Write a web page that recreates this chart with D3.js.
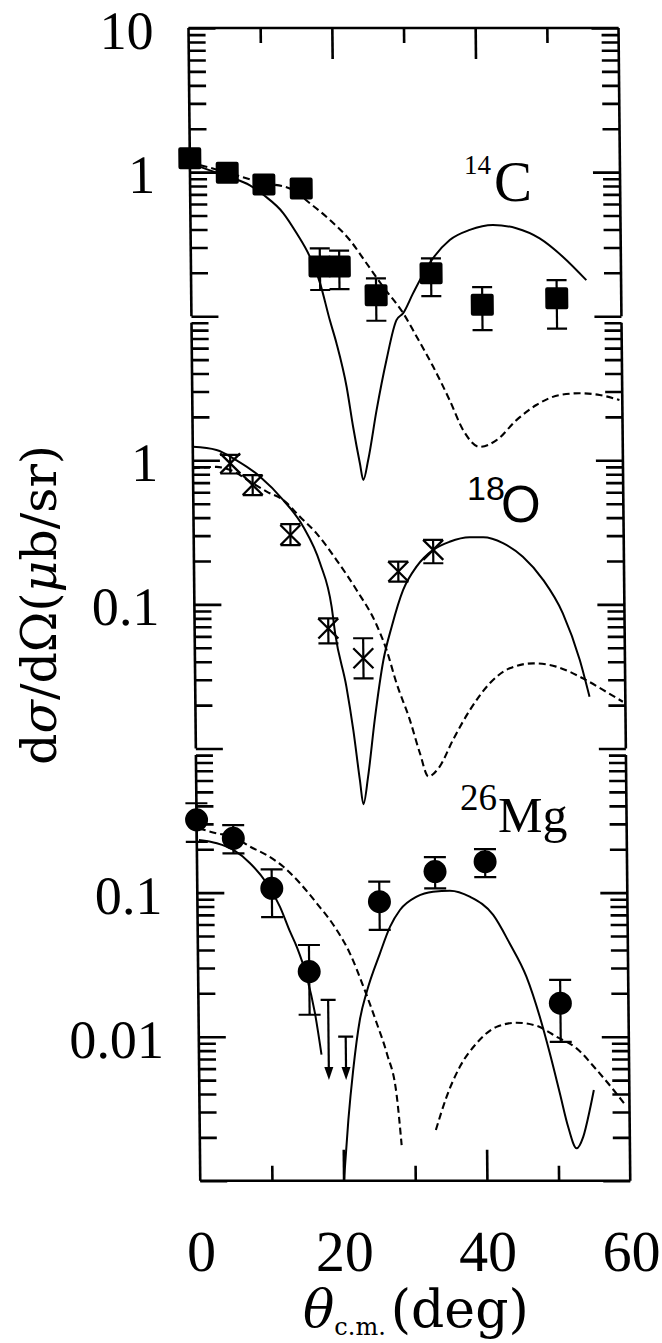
<!DOCTYPE html>
<html>
<head>
<meta charset="utf-8">
<script src="https://cdn.jsdelivr.net/npm/d3@7"></script>
<style>
  html, body { margin: 0; padding: 0; background: #fff; }
  svg { display: block; }
</style>
</head>
<body>
<svg id="chart" width="662" height="1343"></svg>
<script>
// ---------------- data ----------------
const thetaLabels = [0, 20, 40, 60];
const thetaMinor = [10, 30, 50];
const thetaMajor = [20, 40];

// 14C: measured points (filled squares)
const c14Theta = [0, 5.2, 10.3, 15.5, 18.0, 20.7, 25.8, 33.5, 40.6, 51.0];
const c14Value = [1.25, 0.99, 0.82, 0.77, 0.221, 0.221, 0.140, 0.199, 0.120, 0.133];
const c14ErrHi = [null, null, null, null, 0.296, 0.285, 0.183, 0.252, 0.159, 0.178];
const c14ErrLo = [null, null, null, null, 0.152, 0.154, 0.093, 0.138, 0.080, 0.082];

// 14C: calculations
const c14SolidTheta = [0, 5.2, 8.35, 10.3, 12.95, 14.8, 16.6, 18.0, 19.3, 20.2, 21.55, 22.4, 23.3, 23.75, 24.45, 25.7, 27.15, 28.6, 29.55, 30.95, 33.3, 36.15, 38.95, 42.2, 45.45, 48.7, 51.9, 55.15];
const c14SolidValue = [1.15, 0.93, 0.81, 0.69, 0.52, 0.376, 0.259, 0.169, 0.094, 0.065, 0.0324, 0.0171, 0.0095, 0.0073, 0.0100, 0.0223, 0.0497, 0.094, 0.105, 0.144, 0.233, 0.338, 0.397, 0.430, 0.408, 0.347, 0.259, 0.178];
const c14DashTheta = [0, 5.0, 10.3, 13.9, 16.7, 19.45, 22.2, 24.5, 26.8, 29.55, 31.4, 33.65, 35.9, 37.75, 40.05, 42.4, 45.2, 48.0, 51.3, 54.05, 56.85, 59.6];
const c14DashValue = [1.17, 1.0, 0.84, 0.77, 0.607, 0.466, 0.338, 0.233, 0.160, 0.105, 0.072, 0.0447, 0.0262, 0.0162, 0.0124, 0.0138, 0.0190, 0.0242, 0.0284, 0.0292, 0.0284, 0.0262];

// 18O: measured points (crosses)
const o18Theta = [5.2, 8.3, 13.5, 18.65, 23.5, 28.5, 33.4];
const o18Value = [0.953, 0.674, 0.303, 0.068, 0.0423, 0.169, 0.239];
const o18ErrHi = [1.09, 0.79, 0.361, 0.080, 0.0582, 0.198, 0.280];
const o18ErrLo = [0.81, 0.574, 0.258, 0.0537, 0.0307, 0.144, 0.193];

// 18O: calculations
const o18SolidTheta = [0, 3.3, 6.1, 9.35, 12.55, 15.3, 17.6, 19.15, 19.6, 21.1, 22.0, 22.85, 23.3, 24.0, 25.0, 26.3, 27.5, 29.15, 31.05, 33.4, 35.7, 38.5, 40.4, 43.15, 45.9, 48.7, 51.4, 53.7, 55.0];
const o18SolidValue = [1.24, 1.18, 1.0, 0.77, 0.53, 0.346, 0.193, 0.096, 0.063, 0.0268, 0.0134, 0.0060, 0.0041, 0.0064, 0.0158, 0.0411, 0.070, 0.126, 0.183, 0.239, 0.272, 0.292, 0.292, 0.266, 0.214, 0.148, 0.0867, 0.0411, 0.0229];
const o18DashTheta = [0, 3.3, 5.2, 7.95, 10.25, 12.55, 14.85, 17.15, 19.9, 22.65, 25.4, 26.75, 28.1, 29.9, 31.25, 32.4, 34.0, 35.9, 38.3, 41.1, 43.9, 47.2, 50.4, 54.1, 56.9, 59.65];
const o18DashValue = [0.88, 0.90, 0.857, 0.711, 0.606, 0.53, 0.406, 0.311, 0.203, 0.126, 0.072, 0.0483, 0.0283, 0.0158, 0.0093, 0.0064, 0.0075, 0.0115, 0.0185, 0.0283, 0.036, 0.039, 0.037, 0.0307, 0.0255, 0.0211];

// 26Mg: measured points (filled circles) and upper limits (arrows)
const mgTheta = [0, 5.1, 10.4, 15.5, 25.4, 33.2, 40.2, 50.5];
const mgValue = [0.32, 0.238, 0.107, 0.0283, 0.0865, 0.140, 0.164, 0.0171];
const mgErrHi = [0.417, 0.294, 0.145, 0.0433, 0.119, 0.176, 0.200, 0.0248];
const mgErrLo = [0.225, 0.187, 0.0675, 0.0142, 0.0551, 0.107, 0.128, 0.0092];
const mgLimitTheta = [18.1, 20.5];
const mgLimitValue = [0.018, 0.010];
const mgLimitTip = [0.005, 0.005];

// 26Mg: calculations (two lobes each)
const mgSolidATheta = [0.3, 2.8, 5.1, 7.4, 9.7, 11.5, 12.9, 13.8, 15.15, 16.25, 17.1];
const mgSolidAValue = [0.232, 0.220, 0.198, 0.160, 0.116, 0.080, 0.0533, 0.0420, 0.0261, 0.0145, 0.0075];
const mgSolidBTheta = [20.05, 20.75, 21.5, 22.5, 23.5, 25.4, 26.85, 28.25, 30.6, 32.9, 35.25, 38.0, 41.25, 43.5, 45.8, 47.6, 48.95, 50.3, 51.4, 52.55, 53.5, 54.45, 55.05];
const mgSolidBValue = [0.001, 0.00264, 0.00588, 0.0131, 0.0205, 0.0379, 0.058, 0.0757, 0.0937, 0.1015, 0.103, 0.0937, 0.070, 0.0445, 0.0261, 0.0138, 0.0077, 0.00405, 0.00238, 0.00168, 0.00202, 0.0031, 0.00427];
const mgDashATheta = [0.3, 2.8, 5.1, 7.45, 9.75, 12.05, 14.35, 16.65, 18.95, 21.2, 23.05, 24.85, 26.2, 27.55, 28.15];
const mgDashAValue = [0.279, 0.258, 0.244, 0.208, 0.182, 0.151, 0.116, 0.0843, 0.0596, 0.0379, 0.0222, 0.0124, 0.0077, 0.00384, 0.00177];
const mgDashBTheta = [32.95, 34.5, 36.4, 38.75, 41.55, 44.35, 47.15, 49.9, 52.7, 55.45, 57.75, 59.55];
const mgDashBValue = [0.00225, 0.00384, 0.0062, 0.0090, 0.0117, 0.0125, 0.0119, 0.0100, 0.0083, 0.0059, 0.0043, 0.0033];

// ---------------- layout ----------------
const TOP = 28;            // top border
const DECADE = 144.1;      // pixels per decade, shared by the three panels
const X0 = 188.5, X1 = 618.5;
const SHEAR = 0.0102;      // slight lean of the whole frame
const SERIF = "'Liberation Serif', 'Times New Roman', serif";
const SERIF_WIDE = "'DejaVu Serif', serif";
const SANS = "'Liberation Sans', Arial, sans-serif";
const INK = "#000";

const svg = d3.select("#chart");
const shearDeg = Math.atan(SHEAR) * 180 / Math.PI;
const plot = svg.append("g")
  .attr("transform", `translate(0,${TOP}) skewX(${shearDeg}) translate(0,${-TOP})`);

const x = d3.scaleLinear().domain([0, 60]).range([X0, X1]);

// panels: log10 span and decade offset from the top border
const panels = [
  { hi: 1, lo: -1, start: 0, labels: [10, 1], first: 10 },
  { hi: 1, lo: -2, start: 2, labels: [1, 0.1], first: 9 },
  { hi: 0, lo: -3, start: 5, labels: [0.1, 0.01], first: 0.9 }
];
panels.forEach(p => {
  p.y = d3.scaleLog()
    .domain([10 ** p.hi, 10 ** p.lo])
    .range([TOP + p.start * DECADE, TOP + (p.start + p.hi - p.lo) * DECADE]);
});
const BOTTOM = panels[2].y(10 ** panels[2].lo);

function bare(g) {
  g.select(".domain").remove();
  g.selectAll(".tick line").attr("stroke", INK).attr("stroke-width", 2.6);
}

// ---- frame: top and bottom borders with theta ticks ----
const frame = plot.append("g").attr("stroke", INK).attr("stroke-width", 2.6).attr("fill", "none");
frame.append("line").attr("x1", x(0)).attr("x2", x(60)).attr("y1", TOP).attr("y2", TOP);
frame.append("line").attr("x1", x(0)).attr("x2", x(60)).attr("y1", BOTTOM).attr("y2", BOTTOM);

plot.append("g").attr("transform", `translate(0,${TOP})`)
  .call(d3.axisTop(x).tickValues(thetaMinor).tickSize(-15).tickFormat("")).call(bare);
plot.append("g").attr("transform", `translate(0,${TOP})`)
  .call(d3.axisTop(x).tickValues(thetaMajor).tickSize(-31).tickFormat("")).call(bare);
plot.append("g").attr("transform", `translate(0,${BOTTOM})`)
  .call(d3.axisBottom(x).tickValues(thetaMinor).tickSize(-15).tickFormat("")).call(bare);
plot.append("g").attr("transform", `translate(0,${BOTTOM})`)
  .call(d3.axisBottom(x).tickValues(thetaMajor).tickSize(-31).tickFormat("")).call(bare);
plot.append("g").attr("transform", `translate(0,${BOTTOM})`)
  .call(d3.axisBottom(x).tickValues(thetaLabels).tickSize(0).tickPadding(49).tickFormat(d3.format("d")))
  .call(g => {
    g.select(".domain").remove();
    g.attr("font-family", SERIF).attr("font-size", 58);
    g.selectAll("text").attr("fill", INK);
  });

// ---- panel sides with log ticks ----
panels.forEach(p => {
  const y = p.y;
  const all = y.ticks().filter(v => v <= p.first * 1.0001);
  const isDecade = v => Math.abs(Math.log10(v) - Math.round(Math.log10(v))) < 1e-6;
  const major = all.filter(isDecade);
  const minor = all.filter(v => !isDecade(v));
  const y0 = y(p.first), y1 = y(10 ** p.lo);
  frame.append("line").attr("x1", x(0)).attr("x2", x(0)).attr("y1", y0).attr("y2", y1);
  frame.append("line").attr("x1", x(60)).attr("x2", x(60)).attr("y1", y0).attr("y2", y1);

  plot.append("g").attr("transform", `translate(${x(0)},0)`)
    .call(d3.axisLeft(y).tickValues(minor).tickSize(-17).tickFormat("")).call(bare);
  plot.append("g").attr("transform", `translate(${x(0)},0)`)
    .call(d3.axisLeft(y).tickValues(major).tickSize(-27).tickFormat("")).call(bare);
  plot.append("g").attr("transform", `translate(${x(60)},0)`)
    .call(d3.axisRight(y).tickValues(minor).tickSize(-17).tickFormat("")).call(bare);
  plot.append("g").attr("transform", `translate(${x(60)},0)`)
    .call(d3.axisRight(y).tickValues(major).tickSize(-27).tickFormat("")).call(bare);
  plot.append("g").attr("transform", `translate(${x(0)},0)`)
    .call(d3.axisLeft(y).tickValues(p.labels).tickSize(0).tickPadding(35).tickFormat(v => String(v)))
    .call(g => {
      g.select(".domain").remove();
      g.attr("font-family", SERIF).attr("font-size", 54);
      g.selectAll("text").attr("fill", INK).attr("dy", "0.38em");
    });
});

// ---- curves ----
function drawCurve(panel, thetas, values, dashed) {
  const pts = thetas.map((t, i) => [t, values[i]]);
  const line = d3.line()
    .x(d => x(d[0]))
    .y(d => panel.y(d[1]))
    .curve(d3.curveMonotoneX);
  plot.append("path")
    .attr("d", line(pts))
    .attr("fill", "none")
    .attr("stroke", INK)
    .attr("stroke-width", dashed ? 2.1 : 2.0)
    .attr("stroke-dasharray", dashed ? "7,4" : null);
}
const [P1, P2, P3] = panels;
drawCurve(P1, c14SolidTheta, c14SolidValue, false);
drawCurve(P1, c14DashTheta, c14DashValue, true);
drawCurve(P2, o18SolidTheta, o18SolidValue, false);
drawCurve(P2, o18DashTheta, o18DashValue, true);
drawCurve(P3, mgSolidATheta, mgSolidAValue, false);
drawCurve(P3, mgSolidBTheta, mgSolidBValue, false);
drawCurve(P3, mgDashATheta, mgDashAValue, true);
drawCurve(P3, mgDashBTheta, mgDashBValue, true);

// ---- error bars ----
function errorBars(panel, thetas, hi, lo, capHalf) {
  const g = plot.append("g").attr("stroke", INK).attr("stroke-width", 2.2);
  thetas.forEach((t, i) => {
    if (hi[i] == null) return;
    const cx = x(t), ya = panel.y(hi[i]), yb = panel.y(lo[i]);
    g.append("line").attr("x1", cx).attr("x2", cx).attr("y1", ya).attr("y2", yb);
    g.append("line").attr("x1", cx - capHalf).attr("x2", cx + capHalf).attr("y1", ya).attr("y2", ya);
    g.append("line").attr("x1", cx - capHalf).attr("x2", cx + capHalf).attr("y1", yb).attr("y2", yb);
  });
}
errorBars(P1, c14Theta, c14ErrHi, c14ErrLo, 10);
errorBars(P2, o18Theta, o18ErrHi, o18ErrLo, 10);
errorBars(P3, mgTheta, mgErrHi, mgErrLo, 11);

// ---- markers ----
plot.append("g").selectAll("rect")
  .data(c14Theta.map((t, i) => [t, c14Value[i]]))
  .join("rect")
  .attr("x", d => x(d[0]) - 11.5).attr("y", d => P1.y(d[1]) - 11)
  .attr("width", 23).attr("height", 22).attr("rx", 2)
  .attr("fill", INK);

plot.append("g").selectAll("path")
  .data(o18Theta.map((t, i) => [t, o18Value[i]]))
  .join("path")
  .attr("d", d => {
    const cx = x(d[0]), cy = P2.y(d[1]), h = 10;
    return `M${cx - h},${cy - h}L${cx + h},${cy + h}M${cx + h},${cy - h}L${cx - h},${cy + h}`;
  })
  .attr("stroke", INK).attr("stroke-width", 2.3).attr("fill", "none");

plot.append("g").selectAll("circle")
  .data(mgTheta.map((t, i) => [t, mgValue[i]]))
  .join("circle")
  .attr("cx", d => x(d[0])).attr("cy", d => P3.y(d[1])).attr("r", 11.5)
  .attr("fill", INK);

// upper limits
const lim = plot.append("g");
mgLimitTheta.forEach((t, i) => {
  const cx = x(t), ya = P3.y(mgLimitValue[i]), yt = P3.y(mgLimitTip[i]);
  lim.append("line").attr("x1", cx).attr("x2", cx).attr("y1", ya).attr("y2", yt - 10)
    .attr("stroke", INK).attr("stroke-width", 2.2);
  lim.append("line").attr("x1", cx - 7.5).attr("x2", cx + 7.5).attr("y1", ya).attr("y2", ya)
    .attr("stroke", INK).attr("stroke-width", 2.2);
  lim.append("path").attr("d", `M${cx - 4.5},${yt - 13}L${cx + 4.5},${yt - 13}L${cx},${yt}Z`)
    .attr("fill", INK);
});

// ---- nucleus labels ----
const lab = svg.append("g").attr("fill", INK);
lab.append("text").attr("x", 464).attr("y", 174).attr("font-family", SERIF).attr("font-size", 27).text("14");
lab.append("text").attr("x", 494).attr("y", 201).attr("font-family", SERIF).attr("font-size", 57).text("C");
lab.append("text").attr("x", 467).attr("y", 500).attr("font-family", SANS).attr("font-size", 34).text("18");
lab.append("text").attr("x", 501).attr("y", 522).attr("font-family", SANS).attr("font-size", 51).text("O");
lab.append("text").attr("x", 460).attr("y", 810).attr("font-family", SERIF).attr("font-size", 37).text("26");
lab.append("text").attr("x", 498).attr("y", 832).attr("font-family", SERIF).attr("font-size", 50).text("Mg");

// ---- axis titles ----
const yTitle = svg.append("text")
  .attr("transform", "translate(56,605) rotate(-90)")
  .attr("text-anchor", "middle")
  .attr("font-family", SERIF_WIDE).attr("font-size", 49).attr("fill", INK);
yTitle.append("tspan").text("d");
yTitle.append("tspan").attr("font-style", "italic").text("σ");
yTitle.append("tspan").text("/dΩ(");
yTitle.append("tspan").attr("font-style", "italic").text("μ");
yTitle.append("tspan").text("b/sr)");

const xTitle = svg.append("text")
  .attr("x", 303).attr("y", 1327)
  .attr("font-family", SERIF_WIDE).attr("font-size", 52).attr("fill", INK);
xTitle.append("tspan").attr("font-style", "italic").text("θ");
xTitle.append("tspan").attr("font-size", 24).attr("dy", 8).text("c.m.");
xTitle.append("tspan").attr("dx", 5).attr("dy", -8).text("(deg)");
</script>
</body>
</html>
